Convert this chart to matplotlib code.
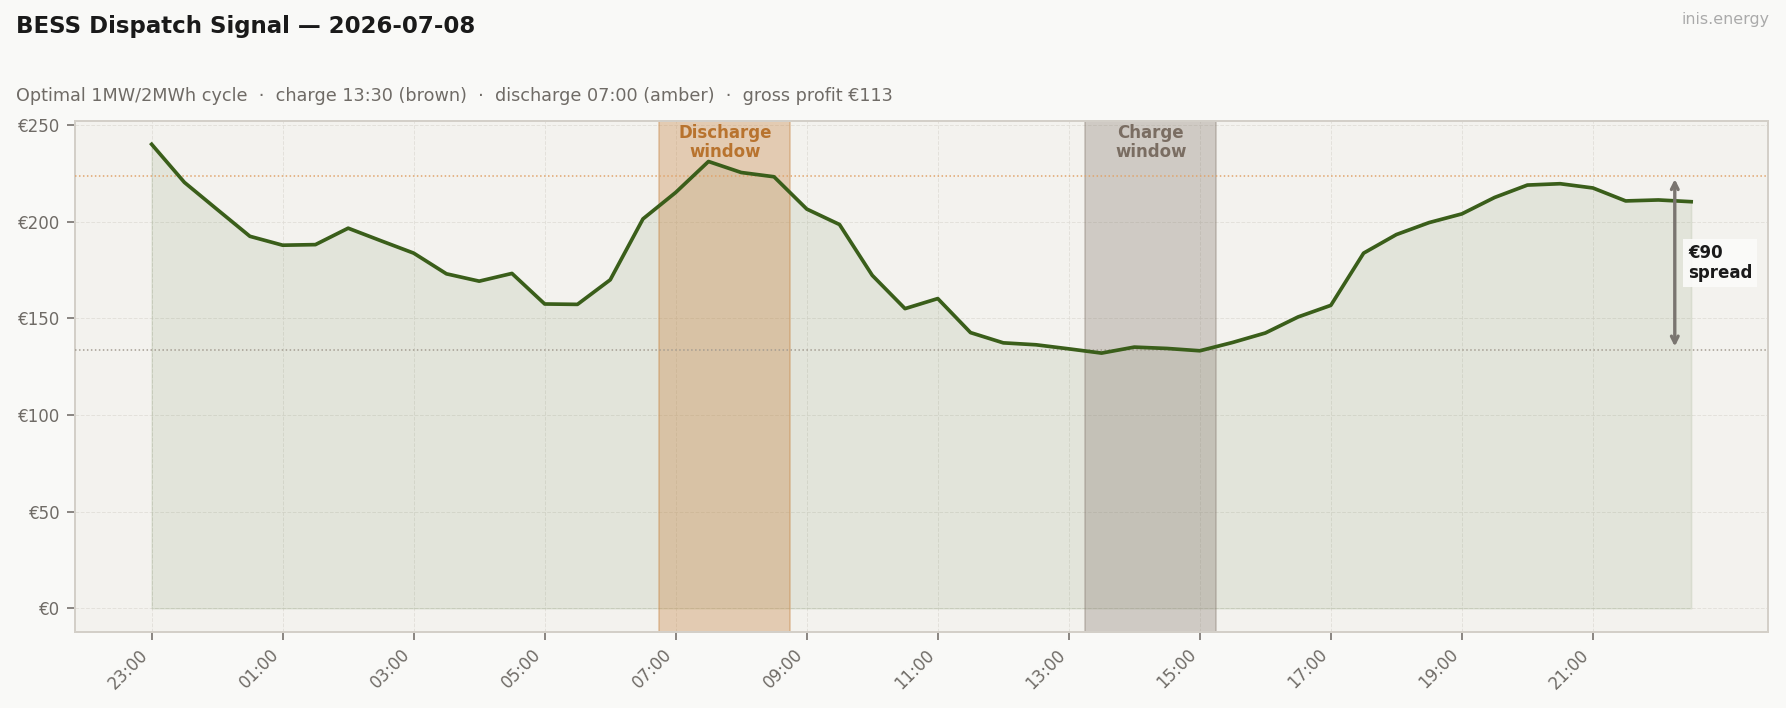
import matplotlib
matplotlib.use("Agg")
import matplotlib.pyplot as plt
import matplotlib.dates as mdates
import matplotlib.transforms as mtransforms
import numpy as np
import pandas as pd

# half-hourly day-ahead prices, 23:00 -> 22:30
start_time = "2026-07-07 23:00"
prices = [
    240.0, 220.3, 206.3, 192.4, 187.8, 188.1, 196.6, 190.1,
    183.7, 173.0, 169.2, 173.2, 157.4, 157.2, 169.9, 201.4,
    215.1, 231.1, 225.4, 223.2, 206.5, 198.5, 172.2, 155.0,
    160.2, 142.6, 137.3, 136.3, 134.2, 132.0, 135.1, 134.4,
    133.2, 137.5, 142.4, 150.7, 156.7, 183.7, 193.3, 199.5,
    204.0, 212.5, 218.9, 219.6, 217.4, 210.7, 211.2, 210.3,
]
discharge_start = "2026-07-08 07:00"
charge_start = "2026-07-08 13:30"
window_slots = 4  # 2 h of 30-min slots
gross_profit = 113

times = pd.date_range(start_time, periods=len(prices), freq="30min")
s = pd.Series(prices, index=times)
half_slot = pd.Timedelta(minutes=15)
slot = pd.Timedelta(minutes=30)

dis_t0 = pd.Timestamp(discharge_start)
chg_t0 = pd.Timestamp(charge_start)
dis_idx = s.index.get_loc(dis_t0)
chg_idx = s.index.get_loc(chg_t0)
dis_mean = s.iloc[dis_idx:dis_idx + window_slots].mean()
chg_mean = s.iloc[chg_idx:chg_idx + window_slots].mean()
spread = dis_mean - chg_mean

BG = "#f9f9f7"
AX_BG = "#f3f2ee"
GREEN = "#3a5e1a"
AMBER = "#c98a4b"
AMBER_TXT = "#b8732e"
BROWN = "#8c8076"
BROWN_TXT = "#7a6d62"
MUTED = "#6f6b66"

fig = plt.figure(figsize=(1786 / 120, 708 / 120), dpi=120)
fig.patch.set_facecolor(BG)
ax = fig.add_axes([0.0418, 0.108, 0.99 - 0.0418, 0.829 - 0.108])
ax.set_facecolor(AX_BG)

ax.fill_between(s.index, s.values, 0, color=GREEN, alpha=0.09, linewidth=1)
ax.plot(s.index, s.values, color=GREEN, linewidth=2.2, zorder=4)

# dispatch windows
ax.axvspan(dis_t0 - half_slot, dis_t0 + (window_slots - 1) * slot + half_slot,
           facecolor=AMBER, alpha=0.37, edgecolor=AMBER, linewidth=1.2, zorder=2)
ax.axvspan(chg_t0 - half_slot, chg_t0 + (window_slots - 1) * slot + half_slot,
           facecolor=BROWN, alpha=0.35, edgecolor=BROWN, linewidth=1.2, zorder=2)

ax.axhline(dis_mean, color="#e0a36a", linestyle=":", linewidth=0.9, zorder=3)
ax.axhline(chg_mean, color="#a39b90", linestyle=":", linewidth=0.9, zorder=3)

trans = mtransforms.blended_transform_factory(ax.transData, ax.transAxes)
dis_mid = dis_t0 + pd.Timedelta(minutes=45)
chg_mid = chg_t0 + pd.Timedelta(minutes=45)
ax.text(dis_mid, 0.995, "Discharge\nwindow", transform=trans, ha="center", va="top",
        fontsize=10, fontweight="bold", color=AMBER_TXT, linespacing=1.1, zorder=6)
ax.text(chg_mid, 0.995, "Charge\nwindow", transform=trans, ha="center", va="top",
        fontsize=10, fontweight="bold", color=BROWN_TXT, linespacing=1.1, zorder=6)

# spread arrow
arrow_x = s.index[-1] - half_slot
ax.annotate("", xy=(arrow_x, dis_mean), xytext=(arrow_x, chg_mean),
            arrowprops=dict(arrowstyle="<->", color="#7a7570", lw=2,
                            shrinkA=2, shrinkB=2), zorder=6)
ax.text(s.index[-1] - pd.Timedelta(minutes=3), (dis_mean + chg_mean) / 2,
        f"€{spread:.0f}\nspread", ha="left", va="center", fontsize=10,
        fontweight="bold", color="#1a1a1a", linespacing=1.1, zorder=7,
        bbox=dict(boxstyle="square,pad=0.3", facecolor="#fbfbfa", edgecolor="none", alpha=0.9))

ax.set_ylim(-0.05 * s.max(), 1.05 * s.max())
ax.set_yticks([0, 50, 100, 150, 200, 250])
ax.yaxis.set_major_formatter(plt.FuncFormatter(lambda v, _: f"€{v:.0f}"))
ax.set_xticks(s.index[::4])
ax.xaxis.set_major_formatter(mdates.DateFormatter("%H:%M"))
plt.setp(ax.get_xticklabels(), rotation=45, ha="right", rotation_mode="default")

ax.grid(True, linestyle="--", linewidth=0.6, color="#e0ddd7", alpha=0.8)
ax.set_axisbelow(True)
ax.tick_params(colors="#77726d", labelcolor=MUTED, labelsize=10, length=5, width=1)
for spine in ax.spines.values():
    spine.set_edgecolor("#d3cfc8")
    spine.set_linewidth(1.2)

fig.text(0.009, 0.962, "BESS Dispatch Signal — 2026-07-08", fontsize=13.7,
         fontweight="bold", color="#1a1a1a", ha="left", va="center")
fig.text(0.009, 0.865,
         f"Optimal 1MW/2MWh cycle  ·  charge {chg_t0:%H:%M} (brown)  ·  "
         f"discharge {dis_t0:%H:%M} (amber)  ·  gross profit €{gross_profit}",
         fontsize=10.6, color=MUTED, ha="left", va="center")
fig.text(0.991, 0.972, "inis.energy", fontsize=9.5, color="#aaaaaa", ha="right", va="center")

fig.savefig("out.png", dpi=120, facecolor=fig.get_facecolor())
